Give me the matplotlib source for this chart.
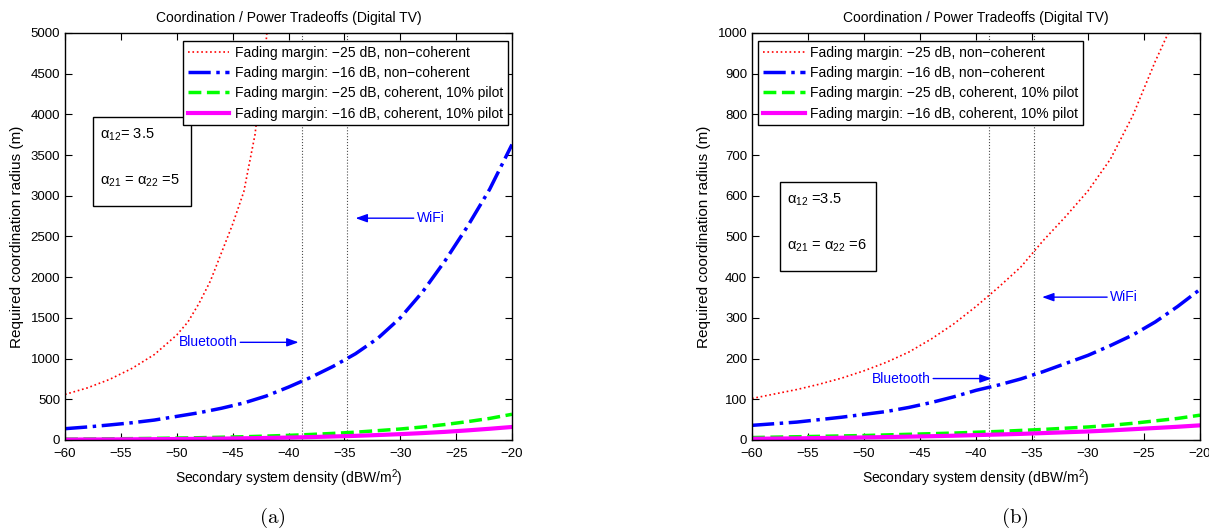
import matplotlib
matplotlib.use('Agg')
import matplotlib.pyplot as plt
from matplotlib.patches import Rectangle

plt.rcParams['font.family'] = ['Liberation Sans', 'DejaVu Sans']
plt.rcParams['mathtext.fontset'] = 'custom'
plt.rcParams['mathtext.rm'] = 'Liberation Sans'
plt.rcParams['mathtext.it'] = 'Liberation Sans:italic'

# x axis: secondary system density (dBW/m^2)
density = [-60, -58, -56, -54, -52, -50, -48, -46, -44, -42, -40,
           -38, -36, -34, -32, -30, -28, -26, -24, -22, -20]

# (a) alpha12 = 3.5, alpha21 = alpha22 = 5
red_a_x = [-60, -58, -56, -54, -52, -50, -49, -48, -47, -46, -45, -44, -43, -42, -41]
red_a = [560, 640, 745, 880, 1050, 1290, 1450, 1680, 1950, 2300, 2650, 3050, 3750, 4900, 6500]
blue_a = [139, 160, 185, 212, 245, 290, 335, 390, 455, 540, 650,
          770, 905, 1060, 1250, 1500, 1820, 2200, 2620, 3080, 3630]
green_a = [10, 12, 14, 17, 20, 24, 28, 34, 40, 48, 57,
           68, 81, 96, 115, 135, 160, 190, 225, 265, 316]
magenta_a = [5, 6, 7, 8.5, 10, 12, 14.5, 17, 21, 25, 30,
             36, 43, 51, 61, 72, 85, 100, 118, 138, 160]

# (b) alpha12 = 3.5, alpha21 = alpha22 = 6
red_b_x = [-60, -58, -56, -54, -52, -50, -48, -46, -44, -42, -40,
           -38, -36, -34, -32, -30, -28, -26, -24, -22]
red_b = [102, 113, 124, 137, 152, 170, 191, 216, 248, 285, 328,
         375, 425, 490, 549, 612, 690, 797, 930, 1050]
blue_b = [36, 40, 44, 50, 56, 63, 70, 80, 92, 106, 122,
          135, 150, 168, 188, 208, 232, 258, 290, 328, 370]
green_b = [6, 7, 8, 9, 10, 11, 12.5, 14, 15.5, 17, 19,
           21, 23.5, 26, 29, 32, 36, 41, 47, 53, 61]
magenta_b = [3, 3.5, 4, 4.8, 5.5, 6.3, 7.2, 8.2, 9.3, 10.5, 12,
             13.5, 15, 17, 19, 21, 23.5, 26.5, 29.5, 32.5, 36]

labels = ['Fading margin: \u221225 dB, non\u2212coherent',
          'Fading margin: \u221216 dB, non\u2212coherent',
          'Fading margin: \u221225 dB, coherent, 10% pilot',
          'Fading margin: \u221216 dB, coherent, 10% pilot']

bluetooth_x = -38.8
wifi_x = -34.8

W, H = 1209, 529
fig = plt.figure(figsize=(W / 100, H / 100), dpi=100)
ax_a = fig.add_axes([65 / W, 89 / H, 447 / W, 407 / H])
ax_b = fig.add_axes([752 / W, 89 / H, 448 / W, 407 / H])


def draw_panel(ax, rx, r, b, g, m, ymax, ystep, leg_loc, leg_anchor, box,
               alpha_txt, bt, wf, cap, cap_x):
    ax.plot(rx, r, ':', color='red', lw=1.2, label=labels[0])
    ax.plot(density, b, '-.', color='blue', lw=2.5, label=labels[1])
    ax.plot(density, g, '--', color='#00ff00', lw=2.5, label=labels[2])
    ax.plot(density, m, '-', color='magenta', lw=3, label=labels[3])
    ax.axvline(bluetooth_x, ls=':', color='0.3', lw=0.8, zorder=0)
    ax.axvline(wifi_x, ls=':', color='0.3', lw=0.8, zorder=0)

    ax.set_xlim(-60, -20)
    ax.set_ylim(0, ymax)
    ax.set_xticks(range(-60, -19, 5))
    ax.set_yticks(range(0, ymax + 1, ystep))
    ax.tick_params(direction='in', top=True, right=True, length=5, labelsize=9.5)
    ax.tick_params(axis='x', pad=6)
    for s in ax.spines.values():
        s.set_linewidth(1.0)

    ax.set_title('Coordination / Power Tradeoffs (Digital TV)', fontsize=10, pad=8)
    ax.set_xlabel('Secondary system density (dBW/m$^2$)', fontsize=10, labelpad=5)
    ax.set_ylabel('Required coordination radius (m)', fontsize=11, labelpad=5)

    leg = ax.legend(loc=leg_loc, bbox_to_anchor=leg_anchor, fontsize=10,
                    handlelength=3, handletextpad=0.4, borderaxespad=0,
                    borderpad=0.35, labelspacing=0.45,
                    fancybox=False, framealpha=1, edgecolor='black')
    leg.get_frame().set_linewidth(1.0)

    x0, y0, x1, y1 = box
    ax.add_patch(Rectangle((x0, y0), x1 - x0, y1 - y0, transform=ax.transAxes,
                           fill=False, edgecolor='black', lw=1.0))
    ax.text(x0 + 0.016, y0 + (y1 - y0) * 0.8, alpha_txt[0], transform=ax.transAxes,
            fontsize=10.5, va='center')
    ax.text(x0 + 0.016, y0 + (y1 - y0) * 0.28, alpha_txt[1], transform=ax.transAxes,
            fontsize=10.5, va='center')

    arrow = dict(arrowstyle='-|>,head_length=0.7,head_width=0.25', color='blue',
                 lw=1.0, shrinkA=0, shrinkB=0)
    ax.annotate('Bluetooth', xy=bt[0], xytext=bt[1], color='blue', fontsize=10,
                ha='center', va='center', arrowprops=arrow)
    ax.annotate('WiFi', xy=wf[0], xytext=wf[1], color='blue', fontsize=10,
                ha='center', va='center', arrowprops=arrow)

    ax.text(cap_x, -0.192, cap, transform=ax.transAxes, ha='center', va='center',
            fontsize=15, math_fontfamily='cm')


draw_panel(ax_a, red_a_x, red_a, blue_a, green_a, magenta_a, 5000, 500,
           'upper right', (1 - 4 / 447, 1 - 8 / 407),
           (0.063, 0.575, 0.282, 0.794),
           ('\u03b1$_{12}$= 3.5', '\u03b1$_{21}$ = \u03b1$_{22}$ =5'),
           ((-39.1, 1200), (-47.2, 1200)), ((-34.0, 2725), (-27.3, 2725)),
           r'$\mathrm{(a)}$', 0.463)
draw_panel(ax_b, red_b_x, red_b, blue_b, green_b, magenta_b, 1000, 100,
           'upper left', (6 / 448, 1 - 8 / 407),
           (0.063, 0.415, 0.277, 0.634),
           ('\u03b1$_{12}$ =3.5', '\u03b1$_{21}$ = \u03b1$_{22}$ =6'),
           ((-38.6, 151), (-46.7, 151)), ((-34.1, 351), (-26.8, 351)),
           r'$\mathrm{(b)}$', 0.587)

fig.savefig('out.png', dpi=100)
